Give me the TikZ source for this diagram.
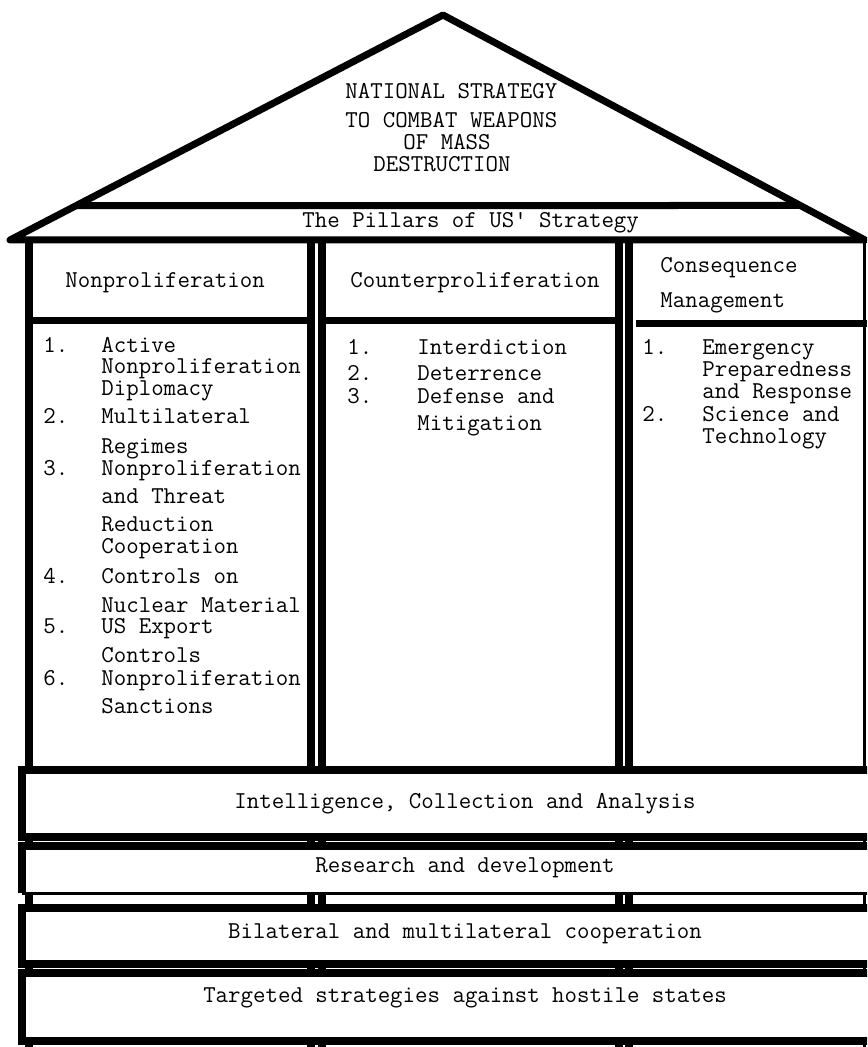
\documentclass[tikz,border=0pt]{standalone}
\usepackage{tikz}
\usetikzlibrary{positioning,calc}
\definecolor{ink}{HTML}{000000}
\tikzset{
  roof/.style={draw=ink, line width=3.5pt, line join=round, line cap=round},
  wall/.style={draw=ink, line width=4pt},
  thinwall/.style={draw=ink, line width=1.5pt},
  rule/.style={draw=ink, line width=3.5pt},
  band/.style={draw=ink, fill=white, line width=4pt},
  txt/.style={font=\ttfamily\fontsize{12.1}{14}\selectfont, inner sep=0pt, anchor=base west},
  ctxt/.style={txt, anchor=base},
}

\begin{document}
\begin{tikzpicture}[x=0.5pt, y=-0.5pt]
  \clip (0,0) rectangle (867,1047);
  \fill[white] (0,0) rectangle (867,1047);
  % roof
  \coordinate (apex) at (443,15);
  \coordinate (eaveL) at (10,240);
  \coordinate (eaveR) at (865,240);
  \draw[roof] (eaveL) -- (apex) -- (eaveR) -- cycle;
  \coordinate (beamL) at (intersection of eaveL--apex and 0,205.5--1,205.5);
  \coordinate (beamR) at (intersection of eaveR--apex and 0,205.5--1,205.5);
  \draw[rule] (beamL) -- (beamR);
  \node[txt] (t1) at (345,99) {NATIONAL STRATEGY};
  \node[txt] (t2) at (345,128) {TO COMBAT WEAPONS};
  \node[txt] (t3) at (403,150) {OF MASS};
  \node[txt] (t4) at (373,172) {DESTRUCTION};
  \node[txt] (pil) at (302,228) {The Pillars of US' Strategy};
  % pillars
  \draw[wall] (29,240) -- (29,1047);
  \draw[wall] (311,240) -- (311,1047);
  \draw[wall] (322,240) -- (322,1047);
  \draw[wall] (619,240) -- (619,1047);
  \draw[wall] (629,240) -- (629,1047);
  \draw[thinwall] (864,240) -- (864,1047);
  \draw[rule] (29,320.5) -- (311,320.5);
  \draw[rule] (322,320.5) -- (619,320.5);
  \draw[rule] (636,324) -- (867,324);
  \node[txt] (h1) at (65,288) {Nonproliferation};
  \node[txt] (h2) at (350,288) {Counterproliferation};
  \node[txt] (h3) at (660,273) {Consequence};
  \node[txt] (h3b) at (660,308) {Management};
  % nonproliferation
  \node[txt] (n1) at (43,353) {1.};
  \node[txt] (n2) at (43,423) {2.};
  \node[txt] (n3) at (43,475) {3.};
  \node[txt] (n4) at (43,583) {4.};
  \node[txt] (n5) at (43,633) {5.};
  \node[txt] (n6) at (43,685) {6.};
  \node[txt] (a1) at (101,353) {Active};
  \node[txt] (a2) at (101,373) {Nonproliferation};
  \node[txt] (a3) at (101,395) {Diplomacy};
  \node[txt] (b1) at (101,423) {Multilateral};
  \node[txt] (b2) at (101,453) {Regimes};
  \node[txt] (c1) at (101,475) {Nonproliferation};
  \node[txt] (c2) at (101,503) {and Threat};
  \node[txt] (c3) at (101,531) {Reduction};
  \node[txt] (c4) at (101,553) {Cooperation};
  \node[txt] (d1) at (101,583) {Controls on};
  \node[txt] (d2) at (101,612) {Nuclear Material};
  \node[txt] (e1) at (101,633) {US Export};
  \node[txt] (e2) at (101,662) {Controls};
  \node[txt] (f1) at (101,685) {Nonproliferation};
  \node[txt] (f2) at (101,713) {Sanctions};
  % counterproliferation
  \node[txt] (m1) at (347,355) {1.};
  \node[txt] (m2) at (347,380) {2.};
  \node[txt] (m3) at (347,403) {3.};
  \node[txt] (i1) at (417,355) {Interdiction};
  \node[txt] (i2) at (417,380) {Deterrence};
  \node[txt] (i3) at (417,403) {Defense and};
  \node[txt] (i4) at (417,430) {Mitigation};
  % consequence management
  \node[txt] (r1) at (642,355) {1.};
  \node[txt] (r2) at (642,422) {2.};
  \node[txt] (s1) at (702,355) {Emergency};
  \node[txt] (s2) at (702,377) {Preparedness};
  \node[txt] (s3) at (702,398) {and Response};
  \node[txt] (s4) at (702,422) {Science and};
  \node[txt] (s5) at (702,443) {Technology};
  % foundation
  \draw[band] (22,769.5) rectangle (920,837);
  \fill[white] (22,846) rectangle (920,893);
  \draw[wall] (22,893) -- (22,846) -- (920,846);
  \draw[thinwall] (22,893) -- (920,893);
  \draw[band] (22,907.5) rectangle (920,964);
  \draw[band] (22,973) rectangle (920,1041);
  \node[ctxt] (g1) at (465,808) {Intelligence, Collection and Analysis};
  \node[ctxt] (g2) at (465,872) {Research and development};
  \node[ctxt] (g3) at (465,938) {Bilateral and multilateral cooperation};
  \node[ctxt] (g4) at (465,1002) {Targeted strategies against hostile states};
\end{tikzpicture}
\end{document}
